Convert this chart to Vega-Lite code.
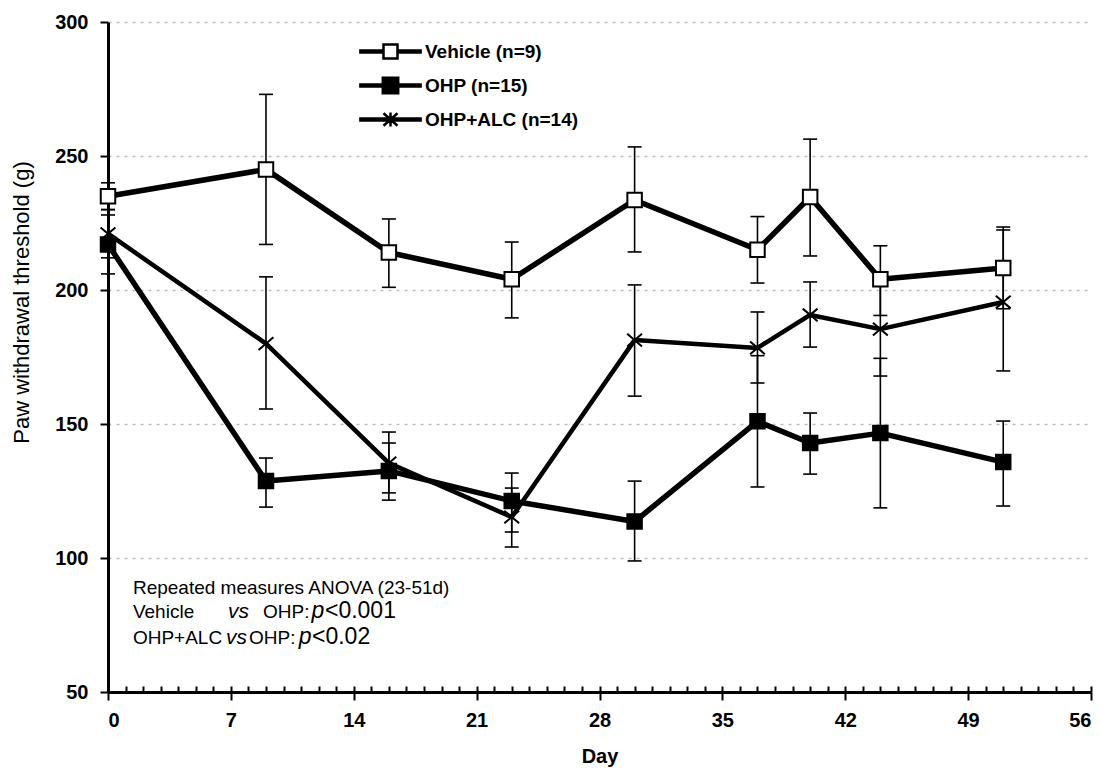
{
  "$schema": "https://vega.github.io/schema/vega-lite/v6.json",
  "width": 983,
  "height": 670,
  "autosize": {"type": "none"},
  "padding": {"left": 108, "top": 22, "right": 17, "bottom": 79},
  "background": "white",
  "config": {
    "font": "Liberation Sans",
    "view": {"stroke": null},
    "axisY": {
      "grid": true, "gridDash": [3, 5], "gridColor": "#bdbdbd", "gridWidth": 1.5,
      "domainColor": "black", "domainWidth": 3,
      "tickColor": "black", "tickWidth": 2, "tickSize": 8,
      "labelFontWeight": "bold", "labelFontSize": 20, "labelColor": "black", "labelPadding": 12,
      "titleFontSize": 22, "titleFontWeight": "normal", "titleColor": "black", "titlePadding": 21
    },
    "legend": {
      "orient": "none",
      "legendX": 273,
      "legendY": 20,
      "direction": "vertical",
      "padding": 0,
      "labelFontSize": 19,
      "labelFontWeight": "bold",
      "labelColor": "black",
      "labelOffset": 25,
      "symbolSize": 196,
      "symbolStrokeWidth": 2.5,
      "symbolOpacity": 1,
      "rowPadding": 8
    }
  },
  "data": {
    "values": [
      {"series": "Vehicle (n=9)", "day": 0, "mean": 235, "lo": 230, "hi": 240},
      {"series": "Vehicle (n=9)", "day": 9, "mean": 245, "lo": 217, "hi": 273},
      {"series": "Vehicle (n=9)", "day": 16, "mean": 214, "lo": 201, "hi": 226.5},
      {"series": "Vehicle (n=9)", "day": 23, "mean": 204, "lo": 189.6, "hi": 217.9},
      {"series": "Vehicle (n=9)", "day": 30, "mean": 233.6, "lo": 214.2, "hi": 253.4},
      {"series": "Vehicle (n=9)", "day": 37, "mean": 215, "lo": 202.6, "hi": 227.4},
      {"series": "Vehicle (n=9)", "day": 40, "mean": 234.7, "lo": 212.7, "hi": 256.3},
      {"series": "Vehicle (n=9)", "day": 44, "mean": 204, "lo": 190.5, "hi": 216.5},
      {"series": "Vehicle (n=9)", "day": 51, "mean": 208.2, "lo": 193, "hi": 223.5},
      {"series": "OHP (n=15)", "day": 0, "mean": 217, "lo": 206, "hi": 228},
      {"series": "OHP (n=15)", "day": 9, "mean": 128.7, "lo": 119, "hi": 137.3},
      {"series": "OHP (n=15)", "day": 16, "mean": 132.5, "lo": 121.6, "hi": 142.9},
      {"series": "OHP (n=15)", "day": 23, "mean": 121.3, "lo": 109.7, "hi": 131.7},
      {"series": "OHP (n=15)", "day": 30, "mean": 113.6, "lo": 98.9, "hi": 128.7},
      {"series": "OHP (n=15)", "day": 37, "mean": 151, "lo": 126.5, "hi": 175.5},
      {"series": "OHP (n=15)", "day": 40, "mean": 142.9, "lo": 131.3, "hi": 154.1},
      {"series": "OHP (n=15)", "day": 44, "mean": 146.6, "lo": 118.7, "hi": 174.5},
      {"series": "OHP (n=15)", "day": 51, "mean": 135.8, "lo": 119.4, "hi": 151.1},
      {"series": "OHP+ALC (n=14)", "day": 0, "mean": 221, "lo": 212, "hi": 230},
      {"series": "OHP+ALC (n=14)", "day": 9, "mean": 180, "lo": 155.6, "hi": 204.9},
      {"series": "OHP+ALC (n=14)", "day": 16, "mean": 135.4, "lo": 124.3, "hi": 147},
      {"series": "OHP+ALC (n=14)", "day": 23, "mean": 115.3, "lo": 104.1, "hi": 126.1},
      {"series": "OHP+ALC (n=14)", "day": 30, "mean": 181.3, "lo": 160.4, "hi": 201.9},
      {"series": "OHP+ALC (n=14)", "day": 37, "mean": 178.4, "lo": 165.3, "hi": 191.8},
      {"series": "OHP+ALC (n=14)", "day": 40, "mean": 190.7, "lo": 178.7, "hi": 203},
      {"series": "OHP+ALC (n=14)", "day": 44, "mean": 185.4, "lo": 167.9, "hi": 202.9},
      {"series": "OHP+ALC (n=14)", "day": 51, "mean": 195.5, "lo": 169.8, "hi": 222.4}
    ]
  },
  "layer": [
    {
      "mark": {"type": "rule", "strokeWidth": 1.6, "color": "black"},
      "encoding": {
        "x": {
          "field": "day", "type": "quantitative",
          "scale": {"domain": [0, 56], "nice": false, "zero": false},
          "axis": {
            "orient": "bottom",
            "values": [0,1,2,3,4,5,6,7,8,9,10,11,12,13,14,15,16,17,18,19,20,21,22,23,24,25,26,27,28,29,30,31,32,33,34,35,36,37,38,39,40,41,42,43,44,45,46,47,48,49,50,51,52,53,54,55,56],
            "tickSize": -6, "tickWidth": 2, "tickColor": "black",
            "labels": false, "domain": false, "grid": false, "title": null
          }
        },
        "y": {
          "field": "lo", "type": "quantitative",
          "scale": {"domain": [50, 300], "nice": false, "zero": false},
          "axis": {
            "title": "Paw withdrawal threshold (g)",
            "values": [50, 100, 150, 200, 250, 300],
            "titleY": 280
          }
        },
        "y2": {"field": "hi"}
      }
    },
    {
      "mark": {"type": "tick", "orient": "horizontal", "size": 14, "thickness": 1.6, "color": "black", "opacity": 1},
      "encoding": {
        "x": {"field": "day", "type": "quantitative", "axis": null},
        "y": {"field": "hi", "type": "quantitative"}
      }
    },
    {
      "mark": {"type": "tick", "orient": "horizontal", "size": 14, "thickness": 1.6, "color": "black", "opacity": 1},
      "encoding": {
        "x": {"field": "day", "type": "quantitative", "axis": null},
        "y": {"field": "lo", "type": "quantitative"}
      }
    },
    {
      "transform": [{"filter": "datum.series !== 'OHP+ALC (n=14)'"}],
      "mark": {"type": "line", "color": "black", "strokeJoin": "round", "strokeWidth": 5.5},
      "encoding": {
        "x": {
          "field": "day", "type": "quantitative",
          "axis": {
            "orient": "bottom",
            "values": [0, 7, 14, 21, 28, 35, 42, 49, 56],
            "tickSize": 8, "tickWidth": 2, "tickColor": "black",
            "domainColor": "black", "domainWidth": 3,
            "labelFontWeight": "bold", "labelFontSize": 20, "labelColor": "black", "labelPadding": 10,
            "grid": false,
            "title": "Day", "titleFontSize": 20, "titleFontWeight": "bold", "titleColor": "black", "titlePadding": 16
          }
        },
        "y": {"field": "mean", "type": "quantitative"},
        "detail": {"field": "series"}
      }
    },
    {
      "transform": [{"filter": "datum.series === 'OHP+ALC (n=14)'"}],
      "mark": {"type": "line", "color": "black", "strokeJoin": "round", "strokeWidth": 4.5},
      "encoding": {
        "x": {"field": "day", "type": "quantitative", "axis": null},
        "y": {"field": "mean", "type": "quantitative"}
      }
    },
    {
      "transform": [{"filter": "datum.series === 'Vehicle (n=9)'"}],
      "mark": {"type": "point", "shape": "square", "filled": true, "fill": "white", "stroke": "black", "strokeWidth": 2, "size": 210, "opacity": 1},
      "encoding": {
        "x": {"field": "day", "type": "quantitative", "axis": null},
        "y": {"field": "mean", "type": "quantitative"}
      }
    },
    {
      "transform": [{"filter": "datum.series === 'OHP (n=15)'"}],
      "mark": {"type": "point", "shape": "square", "filled": true, "fill": "black", "stroke": "black", "strokeWidth": 2, "size": 210, "opacity": 1},
      "encoding": {
        "x": {"field": "day", "type": "quantitative", "axis": null},
        "y": {"field": "mean", "type": "quantitative"}
      }
    },
    {
      "transform": [{"filter": "datum.series === 'OHP+ALC (n=14)'"}],
      "mark": {"type": "point", "shape": "M-1,-0.85L1,0.85M-1,0.85L1,-0.85", "filled": false, "stroke": "black", "strokeWidth": 2, "size": 220, "opacity": 1},
      "encoding": {
        "x": {"field": "day", "type": "quantitative", "axis": null},
        "y": {"field": "mean", "type": "quantitative"}
      }
    },
    {
      "transform": [{"filter": "datum.day < 0"}],
      "mark": {"type": "point", "strokeWidth": 2.5},
      "encoding": {
        "x": {"field": "day", "type": "quantitative", "axis": null},
        "y": {"field": "mean", "type": "quantitative"},
        "shape": {
          "field": "series",
          "scale": {
            "domain": ["Vehicle (n=9)", "OHP (n=15)", "OHP+ALC (n=14)"],
            "range": [
              "M-4.3,-0.15H-1V0.15H-4.3Z M1,-0.15H4.3V0.15H1Z M-1,-1H1V1H-1Z",
              "M-4.3,-0.15H4.3V0.15H-4.3Z M-1.1,-1.1H1.1V1.1H-1.1Z",
              "M-4.3,-0.15H4.3V0.15H-4.3Z M-1,-0.9L1,0.9 M-1,0.9L1,-0.9 M0,-1V1"
            ]
          },
          "legend": {"title": null}
        },
        "fill": {
          "field": "series",
          "scale": {"domain": ["Vehicle (n=9)", "OHP (n=15)", "OHP+ALC (n=14)"], "range": ["white", "black", "black"]},
          "legend": {"title": null}
        },
        "stroke": {
          "field": "series",
          "scale": {"domain": ["Vehicle (n=9)", "OHP (n=15)", "OHP+ALC (n=14)"], "range": ["black", "black", "black"]},
          "legend": {"title": null}
        }
      }
    },
    {
      "data": {"values": [{"label": "Repeated measures ANOVA (23-51d)"}]},
      "mark": {"type": "text", "align": "left", "baseline": "alphabetic", "fontSize": 19, "color": "black"},
      "encoding": {
        "x": {"datum": 1.42, "type": "quantitative", "axis": null},
        "y": {"datum": 86.6, "type": "quantitative"},
        "text": {"field": "label"}
      }
    },
    {
      "data": {"values": [{"label": "Vehicle"}]},
      "mark": {"type": "text", "align": "left", "baseline": "alphabetic", "fontSize": 19, "color": "black"},
      "encoding": {
        "x": {"datum": 1.42, "type": "quantitative", "axis": null},
        "y": {"datum": 77.6, "type": "quantitative"},
        "text": {"field": "label"}
      }
    },
    {
      "data": {"values": [{"label": "vs"}]},
      "mark": {"type": "text", "align": "left", "baseline": "alphabetic", "fontSize": 21, "fontStyle": "italic", "color": "black"},
      "encoding": {
        "x": {"datum": 6.84, "type": "quantitative", "axis": null},
        "y": {"datum": 77.6, "type": "quantitative"},
        "text": {"field": "label"}
      }
    },
    {
      "data": {"values": [{"label": "OHP:"}]},
      "mark": {"type": "text", "align": "left", "baseline": "alphabetic", "fontSize": 19, "color": "black"},
      "encoding": {
        "x": {"datum": 8.83, "type": "quantitative", "axis": null},
        "y": {"datum": 77.6, "type": "quantitative"},
        "text": {"field": "label"}
      }
    },
    {
      "data": {"values": [{"label": "p"}]},
      "mark": {"type": "text", "align": "left", "baseline": "alphabetic", "fontSize": 23, "fontStyle": "italic", "color": "black"},
      "encoding": {
        "x": {"datum": 11.6, "type": "quantitative", "axis": null},
        "y": {"datum": 77.6, "type": "quantitative"},
        "text": {"field": "label"}
      }
    },
    {
      "data": {"values": [{"label": "<0.001"}]},
      "mark": {"type": "text", "align": "left", "baseline": "alphabetic", "fontSize": 23, "color": "black"},
      "encoding": {
        "x": {"datum": 12.36, "type": "quantitative", "axis": null},
        "y": {"datum": 77.6, "type": "quantitative"},
        "text": {"field": "label"}
      }
    },
    {
      "data": {"values": [{"label": "OHP+ALC"}]},
      "mark": {"type": "text", "align": "left", "baseline": "alphabetic", "fontSize": 19, "color": "black"},
      "encoding": {
        "x": {"datum": 1.42, "type": "quantitative", "axis": null},
        "y": {"datum": 67.9, "type": "quantitative"},
        "text": {"field": "label"}
      }
    },
    {
      "data": {"values": [{"label": "vs"}]},
      "mark": {"type": "text", "align": "left", "baseline": "alphabetic", "fontSize": 21, "fontStyle": "italic", "color": "black"},
      "encoding": {
        "x": {"datum": 6.72, "type": "quantitative", "axis": null},
        "y": {"datum": 67.9, "type": "quantitative"},
        "text": {"field": "label"}
      }
    },
    {
      "data": {"values": [{"label": "OHP:"}]},
      "mark": {"type": "text", "align": "left", "baseline": "alphabetic", "fontSize": 19, "color": "black"},
      "encoding": {
        "x": {"datum": 8.03, "type": "quantitative", "axis": null},
        "y": {"datum": 67.9, "type": "quantitative"},
        "text": {"field": "label"}
      }
    },
    {
      "data": {"values": [{"label": "p"}]},
      "mark": {"type": "text", "align": "left", "baseline": "alphabetic", "fontSize": 23, "fontStyle": "italic", "color": "black"},
      "encoding": {
        "x": {"datum": 10.86, "type": "quantitative", "axis": null},
        "y": {"datum": 67.9, "type": "quantitative"},
        "text": {"field": "label"}
      }
    },
    {
      "data": {"values": [{"label": "<0.02"}]},
      "mark": {"type": "text", "align": "left", "baseline": "alphabetic", "fontSize": 23, "color": "black"},
      "encoding": {
        "x": {"datum": 11.62, "type": "quantitative", "axis": null},
        "y": {"datum": 67.9, "type": "quantitative"},
        "text": {"field": "label"}
      }
    }
  ],
  "resolve": {"axis": {"x": "independent"}}
}
